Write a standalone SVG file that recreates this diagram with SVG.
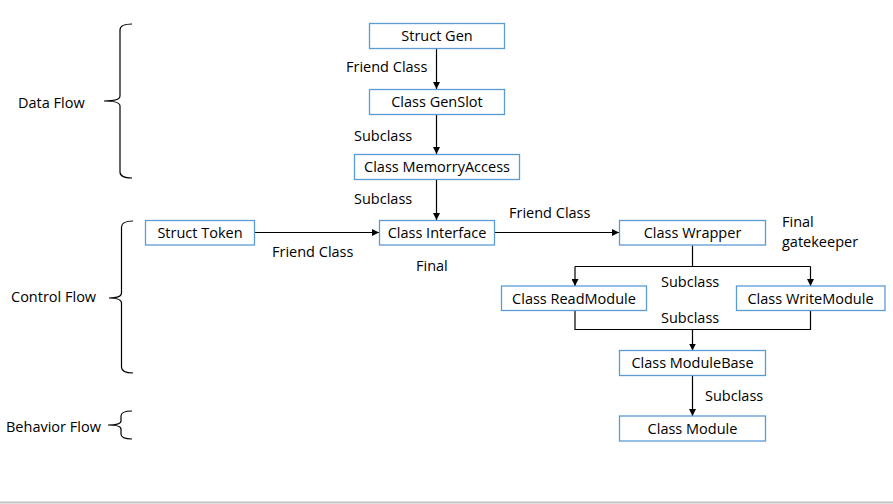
<svg xmlns="http://www.w3.org/2000/svg" width="893" height="504" viewBox="0 0 893 504">
<style>
text{font-family:"Open Sans","Noto Sans","Liberation Sans",sans-serif;font-size:14.5px;fill:#000}
.box rect{fill:#fff;stroke:#5B9BD5;stroke-width:1.3}
.box text{text-anchor:middle}
.conn path{fill:none;stroke:#000;stroke-width:1.2}
.brace path{fill:none;stroke:#000;stroke-width:1.2}
</style>
<defs>
<marker id="arr" viewBox="0 0 10 10" refX="10" refY="5" markerWidth="7" markerHeight="7" markerUnits="userSpaceOnUse" orient="auto">
<path d="M0,0 L10,5 L0,10 z" fill="#000"/>
</marker>
</defs>
<rect width="893" height="504" fill="#fff"/>
<line x1="0" y1="502.5" x2="893" y2="502.5" stroke="#c3c3c3" stroke-width="2"/>

<g class="brace" id="braces">
<path d="M132,24 Q120,24 120,30 L120,96 Q120,101 104,101 Q120,101 120,106 L120,172 Q120,178 132,178"/>
<path d="M133,221 Q121.5,221 121.5,227 L121.5,293 Q121.5,298 109,298 Q121.5,298 121.5,303 L121.5,367 Q121.5,373 133,373"/>
<path d="M132,411 Q121,411 121,416 L121,421 Q121,425 108,425 Q121,425 121,429 L121,434 Q121,439 132,439"/>
</g>
<g id="group-labels">
<text x="18" y="108">Data Flow</text>
<text x="11" y="302">Control Flow</text>
<text x="6" y="432">Behavior Flow</text>
</g>

<g class="conn" id="connectors">
<path d="M436.5,48.5 V89" marker-end="url(#arr)"/>
<path d="M436.5,114.5 V154" marker-end="url(#arr)"/>
<path d="M436.5,179.5 V220" marker-end="url(#arr)"/>
<path d="M254.5,232.5 H379" marker-end="url(#arr)"/>
<path d="M494.5,232.5 H619" marker-end="url(#arr)"/>
<path d="M692.5,245.5 V266.5"/>
<path d="M575,266.5 H810.5"/>
<path d="M575,266.5 V286" marker-end="url(#arr)"/>
<path d="M810.5,266.5 V286" marker-end="url(#arr)"/>
<path d="M575,310.5 V329.5 H810.5 V310.5"/>
<path d="M692.5,329.5 V350.5" marker-end="url(#arr)"/>
<path d="M692.5,375.5 V416" marker-end="url(#arr)"/>
</g>

<g id="edge-labels">
<text x="346" y="72">Friend Class</text>
<text x="354" y="141">Subclass</text>
<text x="354" y="204">Subclass</text>
<text x="272" y="257">Friend Class</text>
<text x="416" y="271">Final</text>
<text x="509" y="218">Friend Class</text>
<text x="782" y="227">Final</text>
<text x="782" y="247">gatekeeper</text>
<text x="661" y="287">Subclass</text>
<text x="661" y="323">Subclass</text>
<text x="705" y="401">Subclass</text>
</g>

<g class="box" id="struct-gen"><rect x="369.5" y="23.5" width="135" height="25"/><text x="437" y="41">Struct Gen</text></g>
<g class="box" id="class-genslot"><rect x="369.5" y="89.5" width="135" height="25"/><text x="437" y="107">Class GenSlot</text></g>
<g class="box" id="class-memorryaccess"><rect x="354.5" y="154.5" width="165" height="25"/><text x="437" y="172">Class MemorryAccess</text></g>
<g class="box" id="struct-token"><rect x="145.5" y="220.5" width="109" height="24.5"/><text x="200" y="238">Struct Token</text></g>
<g class="box" id="class-interface"><rect x="379.5" y="220.5" width="115" height="24.5"/><text x="437" y="238">Class Interface</text></g>
<g class="box" id="class-wrapper"><rect x="619.5" y="220.5" width="146" height="24.5"/><text x="692.5" y="238">Class Wrapper</text></g>
<g class="box" id="class-readmodule"><rect x="501.5" y="286" width="145" height="24.5"/><text x="574" y="303.5">Class ReadModule</text></g>
<g class="box" id="class-writemodule"><rect x="736.5" y="286" width="148.5" height="24.5"/><text x="810.5" y="303.5">Class WriteModule</text></g>
<g class="box" id="class-modulebase"><rect x="619.5" y="350.5" width="146" height="25"/><text x="692.5" y="368">Class ModuleBase</text></g>
<g class="box" id="class-module"><rect x="619.5" y="416" width="146" height="25"/><text x="692.5" y="433.5">Class Module</text></g>
</svg>
